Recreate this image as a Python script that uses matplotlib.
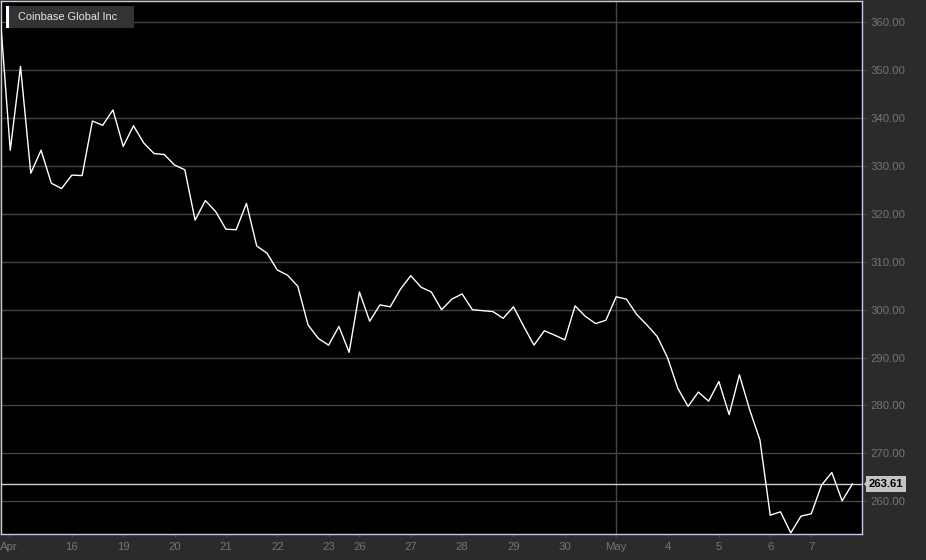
import matplotlib
matplotlib.use("Agg")
import matplotlib.pyplot as plt
from matplotlib.patches import Rectangle, Polygon
import numpy as np

plt.rcParams['font.family'] = ['Liberation Sans', 'DejaVu Sans']

title = "Coinbase Global Inc"
prices = [362.0, 333.3, 350.8, 328.5, 333.3, 326.4, 325.3, 328.1, 328.0, 339.4,
          338.5, 341.7, 334.1, 338.4, 334.8, 332.6, 332.4, 330.2, 329.2, 318.7,
          322.8, 320.5, 316.8, 316.7, 322.2, 313.3, 311.8, 308.3, 307.2, 304.9,
          296.8, 294.0, 292.6, 296.5, 291.1, 303.7, 297.6, 301.0, 300.6, 304.3,
          307.1, 304.7, 303.7, 300.0, 302.2, 303.3, 300.0, 299.8, 299.6, 298.2,
          300.6, 296.5, 292.6, 295.6, 294.7, 293.7, 300.8, 298.6, 297.1, 297.8,
          302.7, 302.2, 299.0, 296.8, 294.4, 290.0, 283.6, 279.8, 282.8, 280.9,
          285.0, 278.1, 286.4, 279.1, 272.8, 257.1, 257.8, 253.4, 256.9, 257.4,
          263.4, 266.0, 260.1, 263.61]
last_price = 263.61
tick_pos = [0.85, 7, 12, 17, 22, 27, 32, 35, 40, 45, 50, 55, 60, 65, 70, 75, 79]
tick_labels = ["Apr", "16", "19", "20", "21", "22", "23", "26", "27", "28",
               "29", "30", "May", "4", "5", "6", "7"]
month_line_pos = [60]
y_ticks = [260, 270, 280, 290, 300, 310, 320, 330, 340, 350, 360]

W, H = 926, 560
fig = plt.figure(figsize=(W / 100, H / 100), dpi=100)
fig.patch.set_facecolor('#2b2b2b')
ax = fig.add_axes([1 / W, 26 / H, 861 / W, 533 / H])
ax.set_facecolor('#000000')

x = np.arange(len(prices))
ax.plot(x, prices, color='#ffffff', lw=1.0, zorder=5)

x0 = 0.1
ax.set_xlim(x0, x0 + 861 / 10.27)
ax.set_ylim(253.17, 364.45)

for yv in y_ticks:
    ax.axhline(yv, color='#464646', lw=1.0, zorder=1)
for xv in month_line_pos:
    ax.axvline(xv, color='#464646', lw=1.0, zorder=1)
ax.axhline(last_price, color='#cfcfcf', lw=1.0, zorder=3)

for s in ax.spines.values():
    s.set_color('#c8c8e6')
    s.set_linewidth(1.0)

ax.yaxis.tick_right()
ax.set_yticks(y_ticks)
ax.set_yticklabels([f"{v:.2f}" for v in y_ticks])
ax.tick_params(axis='y', colors='#464646', labelcolor='#747474', labelsize=8.2,
               length=3.6, width=1, pad=2.2)
ax.set_xticks(tick_pos)
ax.set_xticklabels(tick_labels)
ax.tick_params(axis='x', colors='#464646', labelcolor='#747474', labelsize=8.2,
               length=2.2, width=1, pad=3.5)

# last price tag
tr = ax.get_yaxis_transform()
ax.text(1.0 + 7 / 861, last_price, f"{last_price:.2f}", transform=tr,
        ha='left', va='center', fontsize=8.2, fontweight='bold', color='#000000',
        bbox=dict(boxstyle='square,pad=0.25', fc='#c4c4c4', ec='none'), zorder=10,
        clip_on=False)
tri = Polygon([[1.0 + 2 / 861, last_price], [1.0 + 7 / 861, last_price + 1.2],
               [1.0 + 7 / 861, last_price - 1.2]], closed=True, transform=tr,
              fc='#c4c4c4', ec='none', clip_on=False, zorder=10)
ax.add_patch(tri)

# legend box
fig.add_artist(Rectangle((6 / W, 1 - 28 / H), 128 / W, 22 / H, transform=fig.transFigure,
                         fc='#333333', ec='none', zorder=20))
fig.add_artist(Rectangle((6 / W, 1 - 28 / H), 3 / W, 22 / H, transform=fig.transFigure,
                         fc='#ffffff', ec='none', zorder=21))
fig.text(18 / W, 1 - 17.5 / H, title, ha='left', va='center', fontsize=7.9,
         color='#e6e6e6', zorder=22)

fig.savefig("out.png", dpi=100, facecolor=fig.get_facecolor())
